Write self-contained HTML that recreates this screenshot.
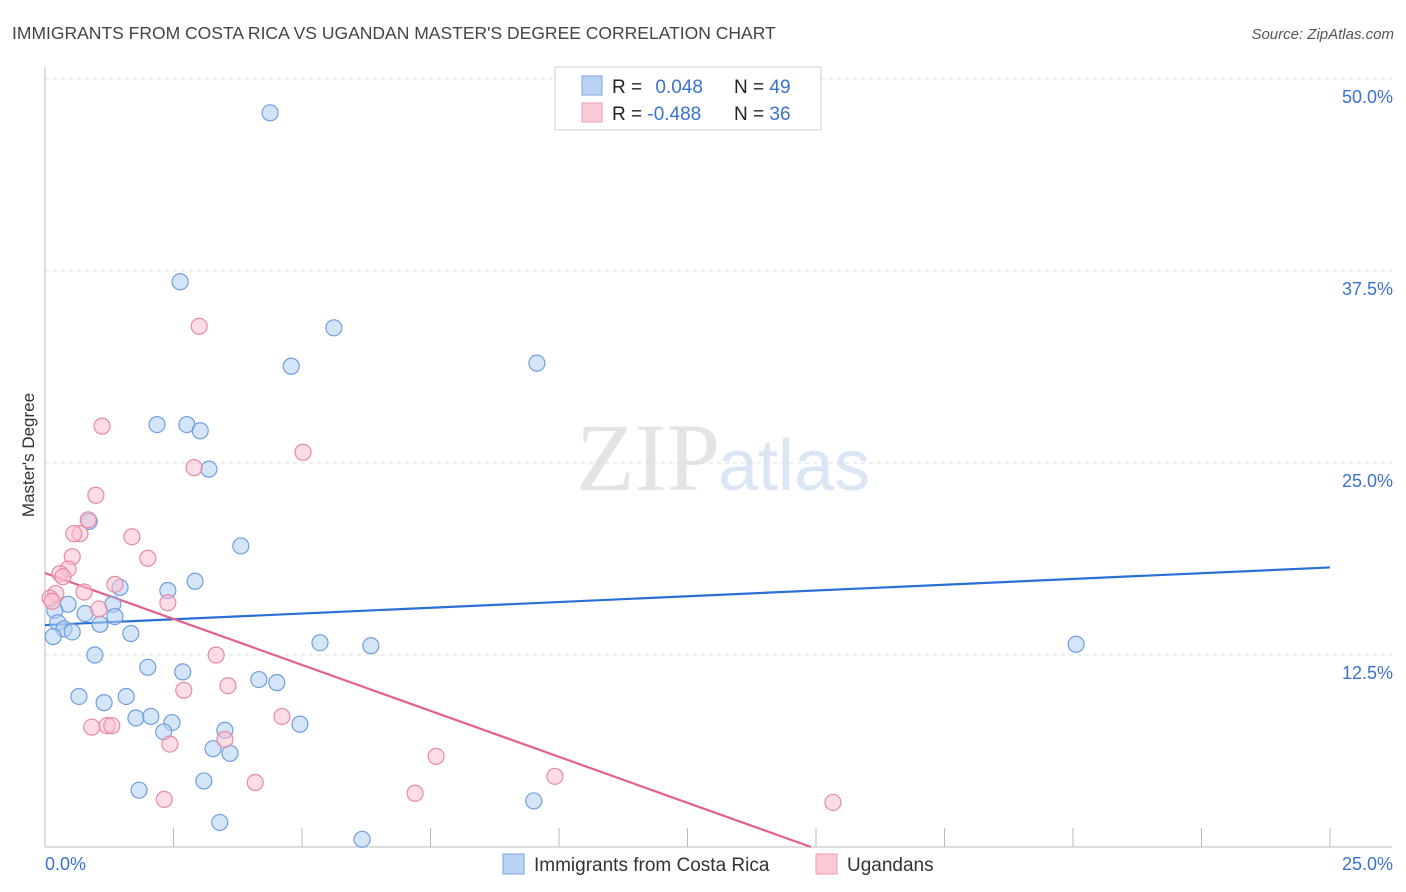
<!DOCTYPE html>
<html><head><meta charset="utf-8"><style>
body{margin:0;background:#fff;font-family:"Liberation Sans",sans-serif;}
svg{display:block}
</style></head><body>
<svg id="chart" width="1406" height="892">
<text x="12" y="39" font-size="17.5" fill="#444">IMMIGRANTS FROM COSTA RICA VS UGANDAN MASTER'S DEGREE CORRELATION CHART</text>
<text x="1394" y="39" font-size="15" fill="#555" font-style="italic" text-anchor="end">Source: ZipAtlas.com</text>
<text x="34" y="455" font-size="17" fill="#333" text-anchor="middle" transform="rotate(-90 34 455)">Master's Degree</text>
<text x="720" y="490" font-size="96" fill="#e4e4e4" text-anchor="end" font-family="Liberation Serif">ZIP</text>
<text x="718" y="490" font-size="72" fill="#dbe6f5">atlas</text>
<g id="grid"></g><g id="axes"></g><g id="lines"></g><g id="pts"></g>
<g>
<rect x="555" y="67" width="266" height="63" fill="#fff" stroke="#ccc"/>
<rect x="582" y="76" width="20" height="19" fill="#b9d3f4" stroke="#7aa6e0"/>
<rect x="582" y="103" width="20" height="19" fill="#fcc8d6" stroke="#eb9bb2"/>
<text x="612" y="93" font-size="19" fill="#222">R = <tspan fill="#3a72d0" dx="8">0.048</tspan></text>
<text x="734" y="93" font-size="19" fill="#222">N = <tspan fill="#3a72d0">49</tspan></text>
<text x="612" y="120" font-size="19" fill="#222">R = <tspan fill="#3a72d0">-0.488</tspan></text>
<text x="734" y="120" font-size="19" fill="#222">N = <tspan fill="#3a72d0">36</tspan></text>
</g>
<g>
<rect x="503" y="854" width="21" height="20" fill="#b9d3f4" stroke="#7aa6e0"/>
<text x="534" y="871" font-size="19" fill="#333">Immigrants from Costa Rica</text>
<rect x="816" y="854" width="21" height="20" fill="#fcc8d6" stroke="#eb9bb2"/>
<text x="847" y="871" font-size="19" fill="#333">Ugandans</text>
</g>
</svg>
<script>
const yTicks=[12.5,25,37.5,50];
const yTickLabels=["12.5%","25.0%","37.5%","50.0%"];
const xTicks=[2.5,5,7.5,10,12.5,15,17.5,20,22.5,25];
const blueX=[4.38,2.63,5.62,4.79,9.57,2.18,2.76,3.02,3.19,0.86,3.81,2.92,2.39,1.46,1.32,0.45,0.19,0.78,1.36,0.25,0.37,0.53,1.07,0.16,1.67,5.35,6.34,20.06,0.97,2.0,2.68,4.16,4.51,0.66,1.58,1.15,1.77,2.06,2.47,4.96,2.31,3.5,3.27,3.6,3.09,1.83,9.51,3.4,6.17];
const blueY=[47.8,36.8,33.8,31.3,31.5,27.5,27.5,27.1,24.6,21.2,19.6,17.3,16.7,16.9,15.8,15.8,15.4,15.2,15.0,14.6,14.2,14.0,14.5,13.7,13.9,13.3,13.1,13.2,12.5,11.7,11.4,10.9,10.7,9.8,9.8,9.4,8.4,8.5,8.1,8.0,7.5,7.6,6.4,6.1,4.3,3.7,3.0,1.6,0.5];
const pinkX=[3.0,1.11,5.02,2.9,0.99,0.84,0.68,0.56,1.69,0.53,2.0,0.45,0.29,0.35,1.36,0.76,0.21,0.1,0.14,2.39,1.05,3.33,2.7,3.56,4.61,0.91,1.21,1.3,3.5,2.43,7.61,9.92,4.09,7.2,2.32,15.33];
const pinkY=[33.9,27.4,25.7,24.7,22.9,21.3,20.4,20.4,20.2,18.9,18.8,18.1,17.8,17.6,17.1,16.6,16.5,16.2,16.0,15.9,15.5,12.5,10.2,10.5,8.5,7.8,7.9,7.9,7.0,6.7,5.9,4.6,4.2,3.5,3.1,2.9];
const blueTrend=[14.45,0.15];   // intercept, slope
const pinkTrend=[17.84,-1.197];
const X=v=>45+v*51.4, Y=v=>847-v*15.36;
const NS="http://www.w3.org/2000/svg";
function mk(p,t,a){const e=document.createElementNS(NS,t);for(const k in a)e.setAttribute(k,a[k]);p.appendChild(e);return e;}
const g=document.getElementById('grid'),ax=document.getElementById('axes'),ln=document.getElementById('lines'),pt=document.getElementById('pts');
yTicks.forEach((v,i)=>{
 const l=mk(g,'line',{x1:45,x2:1392,y1:Y(v),y2:Y(v),stroke:'#ddd','stroke-dasharray':'4,4'});
 
 
 const t=mk(g,'text',{x:1393,y:Y(v)+24,'font-size':18,fill:'#3a72d0','text-anchor':'end'});
 t.textContent=yTickLabels[i];
 
 
});
let a=mk(ax,'line',{x1:45,x2:45,y1:67,y2:847,stroke:'#bbb'});


a=mk(ax,'line',{x1:45,x2:1392,y1:847,y2:847,stroke:'#bbb'});


xTicks.forEach(v=>{
 const t=mk(ax,'line',{x1:X(v),x2:X(v),y1:828,y2:847,stroke:'#bbb'});
 
 
});
let t0=mk(ax,'text',{x:45,y:870,'font-size':18,fill:'#3a72d0'});t0.textContent='0.0%';


let t1=mk(ax,'text',{x:1393,y:870,'font-size':18,fill:'#3a72d0','text-anchor':'end'});t1.textContent='25.0%';


function pts(xs,ys,fill,stroke,name){xs.forEach((x,i)=>{
 const c=mk(pt,'circle',{cx:X(x),cy:Y(ys[i]),r:8,fill:fill,'fill-opacity':0.55,stroke:stroke,'stroke-width':1.2});
 
 
});}
pts(blueX,blueY,'#b3cff2','#6f9ede','point-costa-rica');
pts(pinkX,pinkY,'#f9c0d0','#e889a6','point-ugandans');
let b=mk(ln,'line',{x1:X(0),y1:Y(blueTrend[0]),x2:X(25),y2:Y(blueTrend[0]+25*blueTrend[1]),stroke:'#2a6fd6','stroke-width':2.2});


const pe=-pinkTrend[0]/pinkTrend[1];
let p=mk(ln,'line',{x1:X(0),y1:Y(pinkTrend[0]),x2:X(pe),y2:Y(0),stroke:'#e4608e','stroke-width':2.2});


</script>
</body></html>
